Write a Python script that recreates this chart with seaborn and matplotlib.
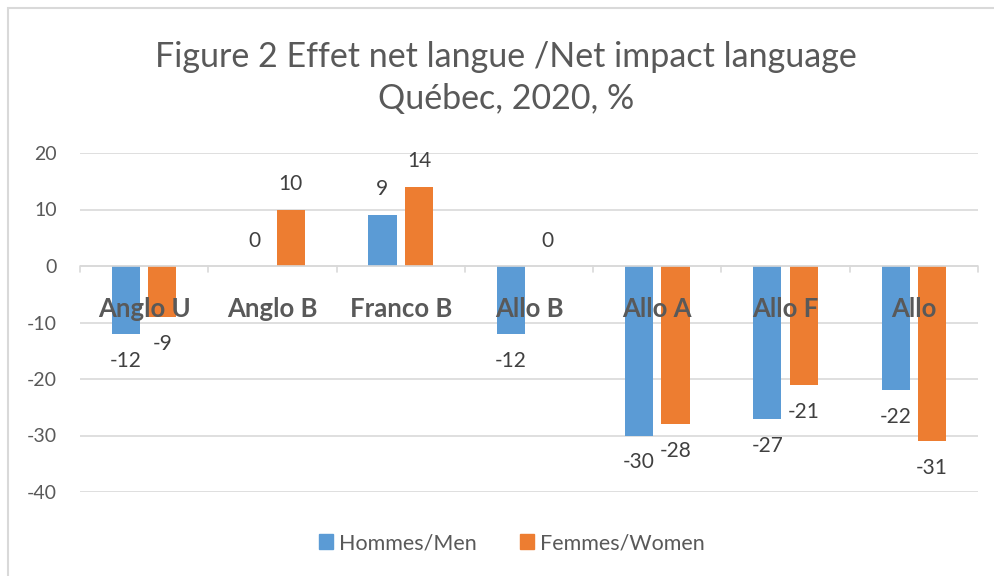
import matplotlib
matplotlib.use("Agg")
import matplotlib.pyplot as plt
import seaborn as sns
import pandas as pd
from matplotlib.patches import Rectangle

categories = ["Anglo U", "Anglo B", "Franco B", "Allo B", "Allo A", "Allo F", "Allo"]
series_names = ["Hommes/Men", "Femmes/Women"]
men = [-12, 0, 9, -12, -30, -27, -22]
women = [-9, 10, 14, 0, -28, -21, -31]
y_ticks = [-40, -30, -20, -10, 0, 10, 20]
title_text = "Figure 2 Effet net langue /Net impact language\nQuébec, 2020, %"

colors = ["#5B9BD5", "#ED7D31"]
grey = "#595959"

sns.set_theme(style="white")
plt.rcParams["font.family"] = ["Lato", "DejaVu Sans"]

df = pd.DataFrame({
    "cat": categories * 2,
    "series": [series_names[0]] * len(categories) + [series_names[1]] * len(categories),
    "value": men + women,
})

fig = plt.figure(figsize=(9.94, 5.76), dpi=100)
ax = fig.add_axes([80 / 994, 1 - 492 / 576, (978 - 80) / 994, (492 - 153) / 576])

sns.barplot(data=df, x="cat", y="value", hue="series", order=categories,
            hue_order=series_names, palette=colors, width=0.57, gap=0.23,
            ax=ax, legend=False, saturation=1, edgecolor="none")

ax.set_ylim(-40, 20)
ax.set_xlim(-0.5, len(categories) - 0.5)
ax.set_yticks(y_ticks)
ax.set_yticklabels([str(t) for t in y_ticks], color=grey, fontsize=14)
ax.tick_params(axis="y", length=0, pad=16.5)
ax.set_xticks([])
ax.set_xlabel("")
ax.set_ylabel("")
for s in ax.spines.values():
    s.set_visible(False)
ax.yaxis.grid(True, color="#D9D9D9", linewidth=1.2)
ax.set_axisbelow(True)

# zero axis with small category separators
ax.axhline(0, color="#D9D9D9", linewidth=1.2, zorder=1)
for i in range(len(categories) + 1):
    ax.plot([i - 0.5, i - 0.5], [0, -1.0], color="#D9D9D9", linewidth=1.2,
            zorder=1, clip_on=False)

# category labels drawn near the zero line
for i, c in enumerate(categories):
    ax.text(i, -7.6, c, ha="center", va="center", fontsize=18.5,
            fontweight="bold", color=grey, zorder=5)

# data labels
for cont, vals in zip(ax.containers, [men, women]):
    for bar, v in zip(cont, vals):
        xc = bar.get_x() + bar.get_width() / 2
        if v >= 0:
            off = 26 if v > 0 else 25
            ax.annotate(str(v), (xc, v), xytext=(0, off * 0.72), textcoords="offset points",
                        ha="center", va="center", fontsize=15, color="#404040")
        else:
            ax.annotate(str(v), (xc, v), xytext=(0, -27 * 0.72), textcoords="offset points",
                        ha="center", va="center", fontsize=15, color="#404040")

fig.text(506 / 994, 1 - 78 / 576, title_text, ha="center", va="center",
         fontsize=24.5, color=grey, linespacing=1.4)

# legend
handles = [Rectangle((0, 0), 1, 1, color=c) for c in colors]
fig.legend(handles, series_names, loc="center", bbox_to_anchor=(512 / 994, 1 - 543 / 576),
           ncol=2, frameon=False, fontsize=15.5, labelcolor=grey, handlelength=0.65,
           handleheight=0.65, handletextpad=0.3, columnspacing=2.0)

# chart border
fig.patches.append(Rectangle((8 / 994, -0.05), 1.1, 1 - 8 / 576 + 0.05,
                             transform=fig.transFigure, fill=False,
                             edgecolor="#D9D9D9", linewidth=1.5))

fig.savefig("out.png", dpi=100, facecolor="white")
